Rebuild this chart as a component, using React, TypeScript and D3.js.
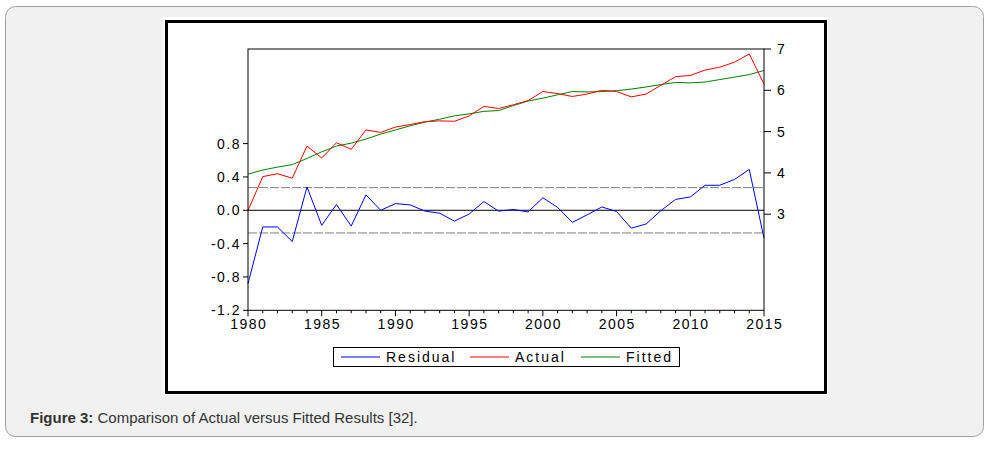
import React from "react";
import * as d3 from "d3";

const years = d3.range(1980, 2016);
const residual = [
  -0.88, -0.20, -0.20, -0.375, 0.28, -0.18, 0.07, -0.19, 0.185, 0.0,
  0.08, 0.065, -0.01, -0.035, -0.13, -0.045, 0.105, -0.01, 0.01, -0.02,
  0.15, 0.035, -0.145, -0.055, 0.04, -0.015, -0.215, -0.165, -0.005, 0.13,
  0.16, 0.30, 0.30, 0.37, 0.49, -0.335,
];
const actual = [
  3.09, 3.91, 3.98, 3.87, 4.65, 4.36, 4.73, 4.57, 5.04, 4.98,
  5.11, 5.17, 5.24, 5.26, 5.25, 5.38, 5.61, 5.56, 5.65, 5.75,
  5.97, 5.92, 5.85, 5.91, 6.00, 5.97, 5.84, 5.91, 6.12, 6.33,
  6.36, 6.49, 6.56, 6.68, 6.88, 6.15,
];
const fitted = [
  3.97, 4.07, 4.14, 4.20, 4.35, 4.51, 4.65, 4.72, 4.82, 4.94,
  5.04, 5.14, 5.23, 5.30, 5.38, 5.43, 5.49, 5.51, 5.63, 5.74,
  5.81, 5.89, 5.97, 5.96, 5.97, 5.99, 6.03, 6.08, 6.14, 6.19,
  6.18, 6.20, 6.26, 6.32, 6.38, 6.48,
];
const leftTicks = [-1.2, -0.8, -0.4, 0.0, 0.4, 0.8];
const rightTicks = [3, 4, 5, 6, 7];
const xMajor = [1980, 1985, 1990, 1995, 2000, 2005, 2010, 2015];
const bandSE = 0.272;
const legendItems = [
  { label: "Residual", color: "#0000ff" },
  { label: "Actual", color: "#ff0000" },
  { label: "Fitted", color: "#008000" },
];

const L = 248, R = 764, T = 49, B = 310.3;
const font = "'Liberation Sans', Arial, sans-serif";

export default function App() {
  const x = d3.scaleLinear().domain([1980, 2015]).range([L, R]);
  const yL = d3.scaleLinear().domain([-1.2, 1.935]).range([B, T]);
  const yR = d3.scaleLinear().domain([0.673, 7]).range([B, T]);
  const lineL = d3.line<number>().x((_, i) => x(years[i])).y((d) => yL(d));
  const lineR = d3.line<number>().x((_, i) => x(years[i])).y((d) => yR(d));

  return (
    <svg
      width={995}
      height={450}
      style={{ position: "absolute", left: 0, top: 0, display: "block" }}
    >
      <rect x={0} y={0} width={995} height={450} fill="#ffffff" />
      <rect x={5.5} y={6.5} width={978} height={430} rx={10} fill="#f1f1f1" stroke="#a0a0a0" />
      <rect x={163} y={17} width={665} height={378} fill="#ffffff" />
      <rect x={166.5} y={21.5} width={659} height={371} fill="none" stroke="#000" strokeWidth={3} />

      {/* band lines */}
      {[bandSE, -bandSE].map((v) => (
        <line key={v} x1={L} x2={R} y1={yL(v)} y2={yL(v)} stroke="#808080" strokeDasharray="9,2" />
      ))}
      <line x1={L} x2={R} y1={yL(0)} y2={yL(0)} stroke="#000" />

      <path d={lineR(fitted) || ""} fill="none" stroke="#008000" strokeWidth={1} />
      <path d={lineR(actual) || ""} fill="none" stroke="#ff0000" strokeWidth={1} />
      <path d={lineL(residual) || ""} fill="none" stroke="#0000ff" strokeWidth={1} />

      {/* frame */}
      <rect x={L} y={T} width={R - L} height={B - T} fill="none" stroke="#000" />

      {/* left axis */}
      {leftTicks.map((t) => (
        <g key={t}>
          <line x1={L - 5} x2={L} y1={yL(t)} y2={yL(t)} stroke="#000" />
          <text x={241} y={yL(t)} dy="0.36em" textAnchor="end" fontFamily={font} fontSize={14} letterSpacing={1.5} fill="#000">
            {t.toFixed(1)}
          </text>
        </g>
      ))}
      {/* right axis */}
      {rightTicks.map((t) => (
        <g key={t}>
          <line x1={R} x2={R + 7} y1={yR(t)} y2={yR(t)} stroke="#000" />
          <text x={777} y={yR(t)} dy="0.36em" textAnchor="start" fontFamily={font} fontSize={14} fill="#000">
            {t}
          </text>
        </g>
      ))}
      {/* x axis */}
      {years.map((yr) => (
        <line key={yr} x1={x(yr)} x2={x(yr)} y1={B} y2={B + (yr % 5 === 0 ? 6 : 3)} stroke="#000" />
      ))}
      {xMajor.map((yr) => (
        <text key={yr} x={x(yr) + 0.75} y={324} dy="0.36em" textAnchor="middle" fontFamily={font} fontSize={14} letterSpacing={1.5} fill="#000">
          {yr}
        </text>
      ))}

      {/* legend */}
      <rect x={333.5} y={347.5} width={346} height={19} fill="#fff" stroke="#000" />
      {legendItems.map((it, i) => {
        const lx = [341, 470, 581][i];
        return (
          <g key={it.label}>
            <line x1={lx} x2={lx + 39} y1={357} y2={357} stroke={it.color} />
            <text x={lx + 45} y={357} dy="0.36em" fontFamily={font} fontSize={14} letterSpacing={2} fill="#000">
              {it.label}
            </text>
          </g>
        );
      })}

      {/* caption */}
      <text x={30} y={423} fontFamily={font} fontSize={15} fill="#333">
        <tspan fontWeight="bold">Figure 3:</tspan>
        <tspan> Comparison of Actual versus Fitted Results [32].</tspan>
      </text>
    </svg>
  );
}
